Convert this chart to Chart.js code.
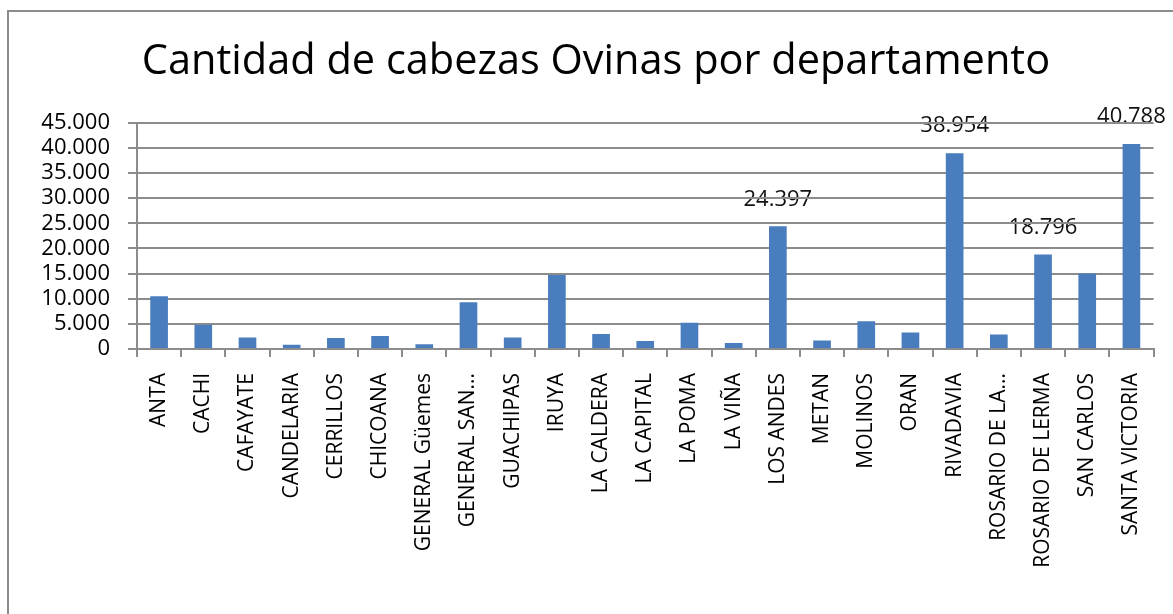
<!DOCTYPE html>
<html>
<head>
<meta charset="utf-8">
<title>Cabezas ovinas por departamento</title>
<script src="https://cdn.jsdelivr.net/npm/chart.js@4.4.1/dist/chart.umd.min.js"></script>
<style>
    html, body { margin: 0; padding: 0; background: #fff; }
    #grafico { display: block; }
</style>
</head>
<body>
<canvas id="grafico" width="1173" height="614"></canvas>
<script>
// departamentos y cantidad de cabezas ovinas
const departamentos = ['ANTA', 'CACHI', 'CAFAYATE', 'CANDELARIA', 'CERRILLOS', 'CHICOANA',
    'GENERAL Güemes', 'GENERAL SAN...', 'GUACHIPAS', 'IRUYA', 'LA CALDERA', 'LA CAPITAL',
    'LA POMA', 'LA VIÑA', 'LOS ANDES', 'METAN', 'MOLINOS', 'ORAN', 'RIVADAVIA',
    'ROSARIO DE LA...', 'ROSARIO DE LERMA', 'SAN CARLOS', 'SANTA VICTORIA'];
const cabezas = [10500, 4800, 2300, 850, 2200, 2600,
    950, 9300, 2300, 14700, 3000, 1600,
    5200, 1200, 24397, 1700, 5500, 3300, 38954,
    2900, 18796, 15000, 40788];
// solo estos departamentos muestran el valor
const conEtiqueta = ['LOS ANDES', 'RIVADAVIA', 'ROSARIO DE LERMA', 'SANTA VICTORIA'];
const ticksY = [0, 5000, 10000, 15000, 20000, 25000, 30000, 35000, 40000, 45000];

const fuente = "'Open Sans', 'DejaVu Sans', sans-serif";
const gris = '#8c8c8c';

// separador de miles con punto
function miles(v) {
    return String(v).replace(/\B(?=(\d{3})+(?!\d))/g, '.');
}

// marco gris a la izquierda y arriba
const marco = {
    id: 'marco',
    afterDraw(chart) {
        const ctx = chart.ctx;
        ctx.save();
        ctx.strokeStyle = gris;
        ctx.lineWidth = 2;
        ctx.beginPath();
        ctx.moveTo(8, chart.height);
        ctx.lineTo(8, 11);
        ctx.lineTo(chart.width, 11);
        ctx.stroke();
        ctx.restore();
    }
};

// valores sobre algunas barras (se dibujan antes que la grilla)
const valores = {
    id: 'valores',
    beforeDraw(chart) {
        const ctx = chart.ctx;
        const meta = chart.getDatasetMeta(0);
        ctx.save();
        ctx.font = '22px ' + fuente;
        ctx.fillStyle = '#111';
        ctx.textAlign = 'center';
        ctx.textBaseline = 'middle';
        meta.data.forEach((barra, i) => {
            if (!conEtiqueta.includes(departamentos[i])) return;
            ctx.fillText(miles(cabezas[i]), barra.x, barra.y - 27);
        });
        ctx.restore();
    }
};

new Chart(document.getElementById('grafico'), {
    type: 'bar',
    data: {
        labels: departamentos,
        datasets: [{
            data: cabezas,
            backgroundColor: '#4a7dbd',
            barPercentage: 0.4,
            categoryPercentage: 1
        }]
    },
    options: {
        responsive: false,
        animation: false,
        layout: { padding: { left: 36, right: 17, top: 0, bottom: 0 } },
        plugins: {
            legend: { display: false },
            tooltip: { enabled: false },
            title: {
                display: true,
                text: 'Cantidad de cabezas Ovinas por departamento',
                color: '#000',
                font: { family: fuente, size: 41.5, weight: 'normal', lineHeight: 1.2 },
                padding: { top: 37, bottom: 36 }
            }
        },
        scales: {
            x: {
                grid: { drawOnChartArea: false, color: gris, lineWidth: 2, tickLength: 8, offset: true },
                border: { color: gris, width: 2 },
                ticks: {
                    autoSkip: false,
                    maxRotation: 90,
                    minRotation: 90,
                    padding: 16,
                    color: '#000',
                    font: { family: fuente, size: 21 }
                },
                afterFit(scale) { scale.height = 265; }
            },
            y: {
                min: 0,
                max: 45000,
                afterBuildTicks(scale) {
                    scale.ticks = ticksY.map(v => ({ value: v }));
                },
                grid: { color: gris, lineWidth: 2, tickLength: 9 },
                border: { color: gris, width: 2 },
                ticks: {
                    autoSkip: false,
                    padding: 18,
                    color: '#000',
                    font: { family: fuente, size: 22 },
                    callback: v => miles(v)
                },
                afterFit(scale) { scale.width = 101; }
            }
        }
    },
    plugins: [valores, marco]
});
</script>
</body>
</html>
